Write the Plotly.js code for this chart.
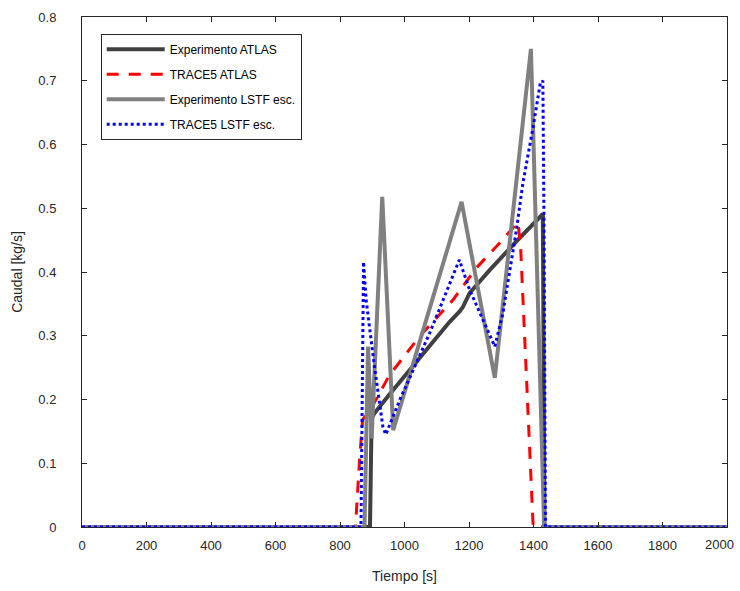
<!DOCTYPE html>
<html>
<head>
<meta charset="utf-8">
<script src="https://cdn.plot.ly/plotly-3.0.1.min.js"></script>
<style>html,body{margin:0;padding:0;background:#fff;}#chart{width:740px;height:591px;}</style>
</head>
<body>
<div id="chart"></div>
<script>
// Experimento ATLAS
const expAtlasX = [0, 893, 898, 906, 950, 1000, 1050, 1100, 1140, 1171, 1181, 1202, 1264, 1347, 1424, 1429, 1434, 2000];
const expAtlasY = [0, 0, 0.17, 0.178, 0.206, 0.237, 0.268, 0.298, 0.322, 0.338, 0.345, 0.367, 0.403, 0.448, 0.489, 0.491, 0, 0];
// TRACE5 ATLAS
const trAtlasX = [0, 848, 860, 870, 885, 901, 953, 1047, 1150, 1222, 1285, 1347, 1352, 1360, 1378, 1399, 2000];
const trAtlasY = [0, 0, 0.10, 0.168, 0.178, 0.19, 0.238, 0.299, 0.356, 0.406, 0.440, 0.476, 0.478, 0.44, 0.24, 0, 0];
// Experimento LSTF esc.
const expLstfX = [0, 876, 887, 898, 931, 965, 1177, 1280, 1392, 1433, 2000];
const expLstfY = [0, 0, 0.283, 0.139, 0.518, 0.152, 0.510, 0.234, 0.750, 0, 0];
// TRACE5 LSTF esc.
const trLstfX = [0, 865, 873, 881, 907, 933, 942, 985, 1078, 1140, 1170, 1202, 1243, 1280, 1305, 1347, 1367, 1398, 1421, 1429, 1433, 1437, 2000];
const trLstfY = [0, 0, 0.416, 0.356, 0.251, 0.157, 0.145, 0.199, 0.304, 0.380, 0.419, 0.372, 0.325, 0.283, 0.335, 0.466, 0.539, 0.625, 0.696, 0.70, 0.45, 0, 0];

const names = ['Experimento ATLAS', 'TRACE5 ATLAS', 'Experimento LSTF esc.', 'TRACE5 LSTF esc.'];
const xTicks = [0, 200, 400, 600, 800, 1000, 1200, 1400, 1600, 1800, 2000];
const xTickText = ['0', '200', '400', '600', '800', '1000', '1200', '1400', '1600', '1800', ''];
const xLastTick = 2000;
const xLastText = '2000';
const yTicks = [0, 0.1, 0.2, 0.3, 0.4, 0.5, 0.6, 0.7, 0.8];
const yTickText = ['0', '0.1', '0.2', '0.3', '0.4', '0.5', '0.6', '0.7', '0.8'];

const tickFont = {family: 'Liberation Sans, Arial, sans-serif', size: 13, color: '#262626'};

const traces = [
  {x: expAtlasX, y: expAtlasY, name: names[0], legendgroup: 'a', mode: 'lines',
   line: {color: '#404040', width: 4}},
  {x: trAtlasX, y: trAtlasY, name: names[1], legendgroup: 'b', mode: 'lines',
   line: {color: '#ff0000', width: 3, dash: '12px,10px'}},
  {x: expLstfX, y: expLstfY, name: names[2], legendgroup: 'c', mode: 'lines',
   line: {color: '#808080', width: 4}},
  {x: trLstfX, y: trLstfY, name: names[3], legendgroup: 'd', mode: 'lines',
   line: {color: '#0000ff', width: 3, dash: '3px,3px'}}
];

const axisCommon = {
  showline: true, linecolor: '#262626', linewidth: 1, mirror: 'ticks',
  ticks: 'inside', ticklen: 5, tickcolor: '#262626', tickwidth: 1,
  showgrid: false, zeroline: false,
  tickfont: tickFont
};

const layout = {
  width: 740, height: 591,
  margin: {l: 82, r: 13, t: 17, b: 64},
  paper_bgcolor: '#fff', plot_bgcolor: '#fff',
  font: {family: 'Liberation Sans, Arial, sans-serif', color: '#262626'},
  showlegend: true,
  legend: {x: 0.029, y: 0.967, xanchor: 'left', yanchor: 'top',
    bgcolor: '#fff', bordercolor: '#262626', borderwidth: 1,
    font: {size: 12, color: '#000'}, tracegroupgap: 6, itemwidth: 58},
  xaxis: Object.assign({}, axisCommon, {
    range: [0, 2000], tickvals: xTicks, ticktext: xTickText,
    ticklabelstandoff: 6,
    title: {text: 'Tiempo [s]', font: {size: 14, color: '#262626'}, standoff: 19}
  }),
  yaxis: Object.assign({}, axisCommon, {
    range: [0, 0.8], tickvals: yTicks, ticktext: yTickText,
    ticklabelstandoff: 22,
    title: {text: 'Caudal [kg/s]', font: {size: 14, color: '#262626'}, standoff: 12}
  }),
  annotations: [{
    x: xLastTick, xref: 'x', y: 0, yref: 'paper', text: xLastText,
    showarrow: false, xanchor: 'right', yanchor: 'top', xshift: 9, yshift: -8,
    font: tickFont
  }]
};

Plotly.newPlot('chart', traces, layout, {displayModeBar: false});
</script>
</body>
</html>
